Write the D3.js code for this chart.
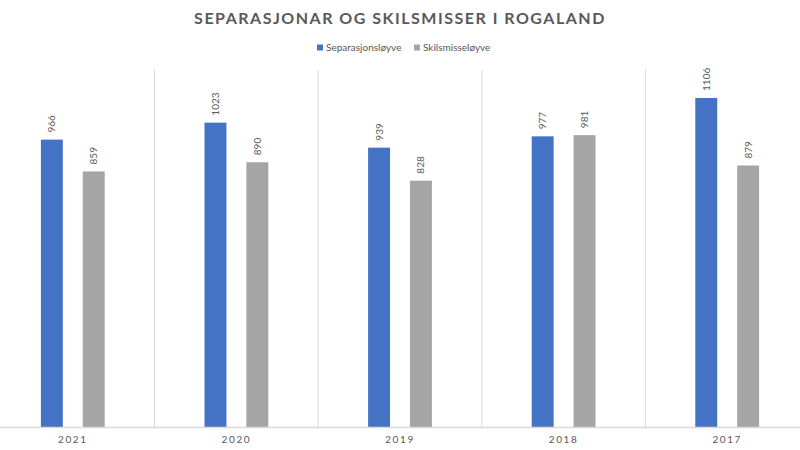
<!DOCTYPE html>
<html>
<head>
<meta charset="utf-8">
<script src="https://cdn.jsdelivr.net/npm/d3@7"></script>
<style>
  html, body { margin: 0; padding: 0; background: #fff; }
  svg { display: block; font-family: Lato, "Open Sans", sans-serif; }
</style>
</head>
<body>
<svg id="chart" width="800" height="450"></svg>
<script>
const title = "SEPARASJONAR OG SKILSMISSER I ROGALAND";
const years = ["2021", "2020", "2019", "2018", "2017"];
const seriesNames = ["Separasjonsløyve", "Skilsmisseløyve"];
const separasjon = [966, 1023, 939, 977, 1106];
const skilsmisse = [859, 890, 828, 981, 879];
const colors = ["#4472C4", "#A5A5A5"];

const svg = d3.select("#chart");
const W = 800, H = 450;
const plotTop = 70, plotBottom = 427;

const x0 = d3.scaleBand().domain(years).range([-9, 809]).paddingInner(0).paddingOuter(0);
const bw = x0.bandwidth();
const x1 = d3.scaleBand().domain(seriesNames).range([bw * 0.305, bw * 0.695]).paddingInner(0.476).paddingOuter(0);
const y = d3.scaleLinear().domain([0, 1200]).range([plotBottom, plotTop]);

const data = years.map((yr, i) => ({ year: yr, values: [separasjon[i], skilsmisse[i]] }));

// Title
svg.append("text")
  .attr("x", W / 2).attr("y", 23.5)
  .attr("text-anchor", "middle")
  .attr("font-size", 16).attr("font-weight", "bold")
  .attr("letter-spacing", 1.5)
  .attr("fill", "#595959")
  .text(title);

// Legend
const legendItems = [{ x: 317, name: seriesNames[0], c: colors[0] }, { x: 414, name: seriesNames[1], c: colors[1] }];
legendItems.forEach(d => {
  svg.append("rect").attr("x", d.x).attr("y", 44.5).attr("width", 6).attr("height", 6).attr("fill", d.c);
  svg.append("text").attr("x", d.x + 9).attr("y", 51).attr("font-size", 10).attr("fill", "#595959").text(d.name);
});

// Vertical separators
const seps = years.slice(1).map(yr => x0(yr));
svg.append("g").selectAll("line").data(seps).join("line")
  .attr("x1", d => d).attr("x2", d => d)
  .attr("y1", plotTop).attr("y2", plotBottom)
  .attr("stroke", "#D9D9D9").attr("stroke-width", 1);

// Bars
const groups = svg.append("g").selectAll("g").data(data).join("g")
  .attr("transform", d => `translate(${x0(d.year)},0)`);

groups.selectAll("rect").data(d => d.values.map((v, j) => ({ v, s: seriesNames[j], c: colors[j] })))
  .join("rect")
  .attr("x", d => x1(d.s)).attr("width", x1.bandwidth())
  .attr("y", d => y(d.v)).attr("height", d => plotBottom - y(d.v))
  .attr("fill", d => d.c);

groups.selectAll("text.val").data(d => d.values.map((v, j) => ({ v, s: seriesNames[j] })))
  .join("text").attr("class", "val")
  .attr("transform", d => `translate(${x1(d.s) + x1.bandwidth() / 2 + 3.5},${y(d.v) - 7}) rotate(-90)`)
  .attr("font-size", 10).attr("fill", "#595959")
  .text(d => d.v);

// Baseline
svg.append("line").attr("x1", 0).attr("x2", W).attr("y1", plotBottom + 0.5).attr("y2", plotBottom + 0.5)
  .attr("stroke", "#D9D9D9").attr("stroke-width", 1.5);

// X axis labels
const xAxis = d3.axisBottom(x0).tickSize(0).tickPadding(0);
const ax = svg.append("g").attr("transform", `translate(0,${plotBottom})`).call(xAxis);
ax.select(".domain").remove();
ax.selectAll("text")
  .attr("y", 16).attr("dy", 0)
  .attr("font-size", 10).attr("letter-spacing", 1.6)
  .attr("fill", "#595959")
  .attr("font-family", "Lato, 'Open Sans', sans-serif");
</script>
</body>
</html>
